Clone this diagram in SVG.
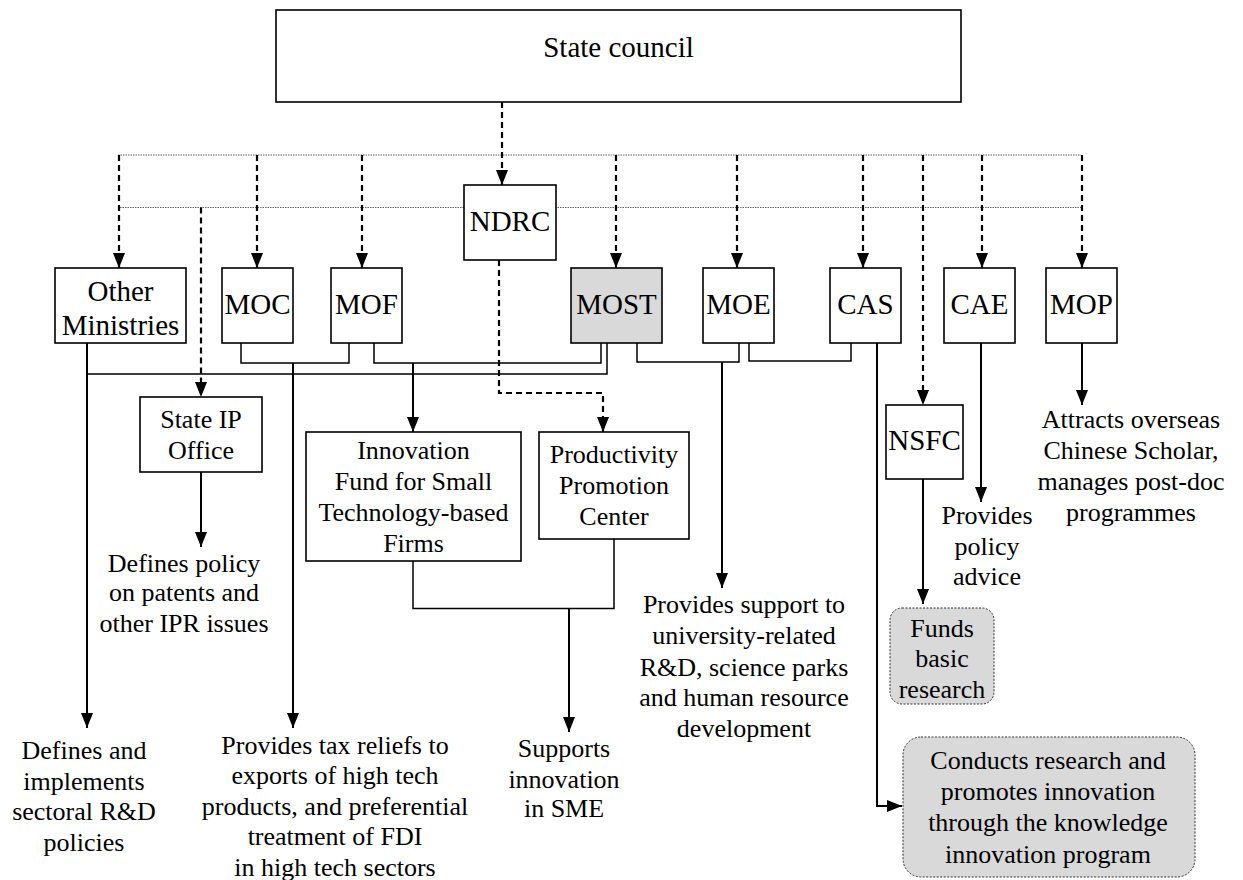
<svg xmlns="http://www.w3.org/2000/svg" width="1243" height="880" viewBox="0 0 1243 880" font-family="Liberation Serif, Times New Roman, DejaVu Serif, serif">
<style>
text{fill:#000;text-anchor:middle}
.big{font-size:29px}
.sm{font-size:26px}
.box{fill:#fff;stroke:#000;stroke-width:1.6}
.grey{fill:#d9d9d9}
.rbox{fill:#d9d9d9;stroke:#333;stroke-width:1;stroke-dasharray:2 1.5}
.dot{fill:none;stroke:#666;stroke-width:1;stroke-dasharray:1.5 1}
.dash{fill:none;stroke:#000;stroke-width:2.2;stroke-dasharray:6 4}
.thin{fill:none;stroke:#000;stroke-width:1.5}
.arr{fill:none;stroke:#000;stroke-width:2}
</style>
<defs>
<marker id="ah" markerUnits="userSpaceOnUse" markerWidth="15" markerHeight="12" refX="15" refY="6" orient="auto">
<path d="M0,0 L15,6 L0,12 z" fill="#000"/>
</marker>
</defs>
<rect width="1243" height="880" fill="#fff"/>
<g id="connectors">
<path class="dot" d="M118 155 H1081"/>
<path class="dot" d="M120 207.5 H1083"/>
<path class="dash" d="M502 102 V185" marker-end="url(#ah)"/>
<path class="dash" d="M119 155 V268" marker-end="url(#ah)"/>
<path class="dash" d="M257 155 V268" marker-end="url(#ah)"/>
<path class="dash" d="M362 155 V268" marker-end="url(#ah)"/>
<path class="dash" d="M616 155 V268" marker-end="url(#ah)"/>
<path class="dash" d="M737 155 V268" marker-end="url(#ah)"/>
<path class="dash" d="M863 155 V268" marker-end="url(#ah)"/>
<path class="dash" d="M923 155 V405" marker-end="url(#ah)"/>
<path class="dash" d="M982 155 V268" marker-end="url(#ah)"/>
<path class="dash" d="M1082 155 V268" marker-end="url(#ah)"/>
<path class="dash" d="M201 207.5 V397" marker-end="url(#ah)"/>
<path class="dash" d="M499 260 V393 H603 V432" marker-end="url(#ah)"/>
<path class="thin" d="M87 374 H607 V343"/>
<path class="thin" d="M241 343 V363 H349 V343"/>
<path class="thin" d="M374 343 V363 H601 V343"/>
<path class="thin" d="M637 343 V362 H739 V343"/>
<path class="thin" d="M749 343 V361 H851 V343"/>
<path class="thin" d="M413 561 V608.5 H614 V539"/>
<path class="arr" d="M87 343 V728" marker-end="url(#ah)"/>
<path class="arr" d="M293 363 V728" marker-end="url(#ah)"/>
<path class="arr" d="M413 363 V432" marker-end="url(#ah)"/>
<path class="arr" d="M722 362 V588" marker-end="url(#ah)"/>
<path class="arr" d="M877 343 V806 H902" marker-end="url(#ah)"/>
<path class="arr" d="M981 343 V502" marker-end="url(#ah)"/>
<path class="arr" d="M1082 343 V405" marker-end="url(#ah)"/>
<path class="arr" d="M201 472 V547" marker-end="url(#ah)"/>
<path class="arr" d="M569 608.5 V732" marker-end="url(#ah)"/>
<path class="arr" d="M923 479 V604" marker-end="url(#ah)"/>
</g>
<g id="state-council"><rect class="box" x="276" y="10" width="685" height="92"/><text class="big" x="618.5" y="57">State council</text></g>
<g id="ndrc"><rect class="box" x="464" y="185" width="92" height="75"/><text class="big" x="510" y="231">NDRC</text></g>
<g id="other-ministries"><rect class="box" x="55" y="268" width="131" height="75"/><text class="big" x="120.5" y="301">Other</text><text class="big" x="120.5" y="335">Ministries</text></g>
<g id="moc"><rect class="box" x="222" y="268" width="71" height="75"/><text class="big" x="257.5" y="314">MOC</text></g>
<g id="mof"><rect class="box" x="331" y="268" width="71" height="75"/><text class="big" x="366.5" y="314">MOF</text></g>
<g id="most"><rect class="box grey" x="571" y="268" width="91" height="75"/><text class="big" x="616.5" y="314">MOST</text></g>
<g id="moe"><rect class="box" x="703" y="268" width="71" height="75"/><text class="big" x="738.5" y="314">MOE</text></g>
<g id="cas"><rect class="box" x="830" y="268" width="71" height="75"/><text class="big" x="865.5" y="314">CAS</text></g>
<g id="cae"><rect class="box" x="944" y="268" width="71" height="75"/><text class="big" x="979.5" y="314">CAE</text></g>
<g id="mop"><rect class="box" x="1046" y="268" width="71" height="75"/><text class="big" x="1081.5" y="314">MOP</text></g>
<g id="state-ip"><rect class="box" x="140" y="397" width="122" height="75"/><text class="sm" x="201" y="428">State IP</text><text class="sm" x="201" y="459">Office</text></g>
<g id="innovation-fund"><rect class="box" x="306" y="432" width="215" height="129"/><text class="sm" x="413.5" y="459">Innovation</text><text class="sm" x="413.5" y="490">Fund for Small</text><text class="sm" x="413.5" y="521">Technology-based</text><text class="sm" x="413.5" y="552">Firms</text></g>
<g id="productivity"><rect class="box" x="539" y="432" width="150" height="107"/><text class="sm" x="614" y="463">Productivity</text><text class="sm" x="614" y="494">Promotion</text><text class="sm" x="614" y="525">Center</text></g>
<g id="nsfc"><rect class="box" x="886" y="405" width="77" height="74"/><text class="big" x="924.5" y="450">NSFC</text></g>
<g id="funds"><rect class="rbox" x="890" y="608" width="104" height="96" rx="12"/><text class="sm" x="942" y="637">Funds</text><text class="sm" x="942" y="667">basic</text><text class="sm" x="942" y="698">research</text></g>
<g id="conducts"><rect class="rbox" x="903" y="737" width="292" height="140" rx="18"/><text class="sm" x="1048" y="769">Conducts research and</text><text class="sm" x="1048" y="800">promotes innovation</text><text class="sm" x="1048" y="831">through the knowledge</text><text class="sm" x="1048" y="863">innovation program</text></g>
<g id="txt-ipr"><text class="sm" x="184" y="572">Defines policy</text><text class="sm" x="184" y="601">on patents and</text><text class="sm" x="184" y="632">other IPR issues</text></g>
<g id="txt-sectoral"><text class="sm" x="84" y="759">Defines and</text><text class="sm" x="84" y="790">implements</text><text class="sm" x="84" y="820">sectoral R&amp;D</text><text class="sm" x="84" y="851">policies</text></g>
<g id="txt-tax"><text class="sm" x="335" y="754">Provides tax reliefs to</text><text class="sm" x="335" y="784">exports of high tech</text><text class="sm" x="335" y="815">products, and preferential</text><text class="sm" x="335" y="845">treatment of FDI</text><text class="sm" x="335" y="876">in high tech sectors</text></g>
<g id="txt-sme"><text class="sm" x="564" y="757">Supports</text><text class="sm" x="564" y="788">innovation</text><text class="sm" x="564" y="817">in SME</text></g>
<g id="txt-university"><text class="sm" x="744" y="613">Provides support to</text><text class="sm" x="744" y="644">university-related</text><text class="sm" x="744" y="676">R&amp;D, science parks</text><text class="sm" x="744" y="706">and human resource</text><text class="sm" x="744" y="737">development</text></g>
<g id="txt-policy-advice"><text class="sm" x="987" y="524">Provides</text><text class="sm" x="987" y="555">policy</text><text class="sm" x="987" y="585">advice</text></g>
<g id="txt-scholar"><text class="sm" x="1131" y="428">Attracts overseas</text><text class="sm" x="1131" y="459">Chinese Scholar,</text><text class="sm" x="1131" y="490">manages post-doc</text><text class="sm" x="1131" y="521">programmes</text></g>
</svg>
